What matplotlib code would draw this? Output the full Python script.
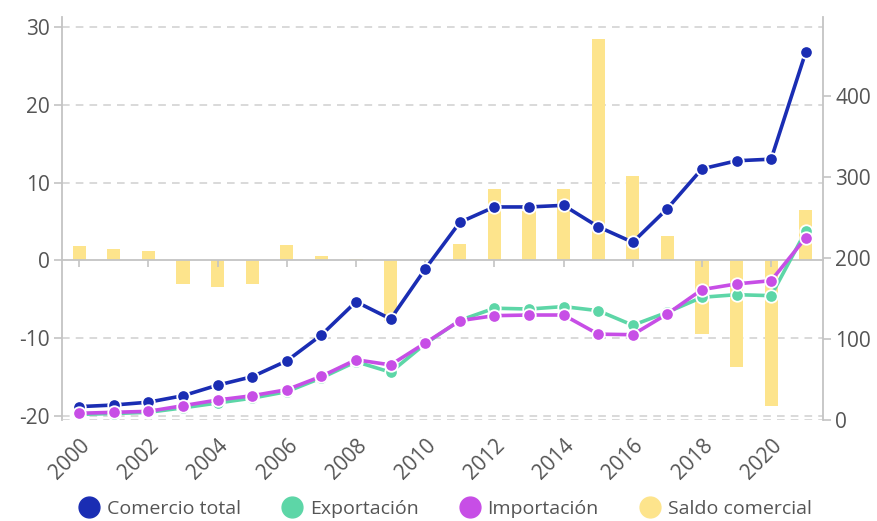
import matplotlib
matplotlib.use("Agg")
import matplotlib.pyplot as plt
from matplotlib.lines import Line2D

plt.rcParams['font.family'] = ['Open Sans', 'DejaVu Sans']

years = list(range(2000, 2022))
saldo = [1.8, 1.5, 1.2, -3.0, -3.4, -3.0, 1.9, 0.5, 0.1, -7.8, 0.0,
         2.1, 9.2, 6.3, 9.2, 28.4, 10.9, 3.1, -9.5, -13.7, -18.7, 6.4]
comercio_total = [16.5, 18.5, 22, 30, 43, 53.5, 73, 105, 146, 124.7, 186.4,
                  244, 263, 263, 265, 238.6, 219.4, 261, 310, 320, 322, 454]
exportacion = [7, 8, 9.5, 15, 21, 27, 35, 52, 72, 59, 94,
               123, 138, 137, 140, 135, 117, 133, 151.5, 154.7, 153.5, 233]
importacion = [8.3, 9.5, 10.7, 17.7, 24.7, 30, 37.4, 54, 74.4, 68, 95,
               122.6, 128.8, 129.6, 129.6, 106, 105.3, 131, 161, 168, 172, 225]

xticks = list(range(2000, 2021, 2))
left_ticks = [-20, -10, 0, 10, 20, 30]
right_ticks = [0, 100, 200, 300, 400]

c_total = '#1a2db3'
c_exp = '#5dd6a7'
c_imp = '#c74ee6'
c_bar = '#fde48c'
grid_c = '#cfcfcf'
spine_c = '#c4c4c4'
text_c = '#555555'

fig = plt.figure(figsize=(8.77, 5.21), dpi=100)
ax = fig.add_axes([62/877, 1-420/521, (823-62)/877, (420-17)/521])
ax2 = ax.twinx()

ax.set_xlim(1999.5, 2021.5)
ax.set_ylim(-20.55, 31.29)
ax2.set_ylim(0, 497.5)

for v in [-20, -10, 10, 20, 30]:
    ax.axhline(v, color=grid_c, lw=1.1, ls=(0, (5, 4)), zorder=0)
ax2.axhline(0, color=grid_c, lw=1.1, ls=(0, (5, 4)), zorder=0)

ax.bar(years, saldo, width=0.38, color=c_bar, zorder=1)

ax.set_zorder(1)
ax2.set_zorder(2)
ax2.patch.set_visible(False)

lw = 2.6
ms = 9
ax2.plot(years, comercio_total, color=c_total, lw=lw, marker='o', ms=ms,
         mfc=c_total, mec='white', mew=1.3, zorder=3)
ax2.plot(years, exportacion, color=c_exp, lw=lw, marker='o', ms=ms,
         mfc=c_exp, mec='white', mew=1.3, zorder=4)
ax2.plot(years, importacion, color=c_imp, lw=lw, marker='o', ms=ms,
         mfc=c_imp, mec='white', mew=1.3, zorder=5)

for a in (ax, ax2):
    a.spines['top'].set_visible(False)
ax.spines['right'].set_visible(False)
ax2.spines['left'].set_visible(False)
ax2.spines['bottom'].set_visible(False)
ax.spines['left'].set_color(spine_c)
ax.spines['left'].set_linewidth(1.3)
ax2.spines['right'].set_color(spine_c)
ax2.spines['right'].set_linewidth(1.3)

ax.spines['bottom'].set_position(('data', 0))
ax.spines['bottom'].set_color(spine_c)
ax.spines['bottom'].set_linewidth(1.3)
ax.set_xticks(xticks)
ax.tick_params(axis='x', direction='out', length=5, width=1.2,
               color=spine_c, labelbottom=False)

sec = ax.secondary_xaxis(0.0)
sec.set_xticks(xticks)
sec.set_xticklabels([str(y) for y in xticks], rotation=45, ha='right',
                    rotation_mode='anchor', fontsize=15, color=text_c)
sec.tick_params(axis='x', length=0, pad=11)
sec.spines['bottom'].set_visible(False)

ax.set_yticks(left_ticks)
ax.set_yticklabels([str(v) for v in left_ticks])
ax.tick_params(axis='y', direction='out', length=6, width=1.2,
               color=spine_c, labelsize=15, labelcolor=text_c, pad=3)
ax2.set_yticks(right_ticks)
ax2.set_yticklabels([str(v) for v in right_ticks])
ax2.tick_params(axis='y', direction='out', length=6, width=1.2,
                color=spine_c, labelsize=15, labelcolor=text_c, pad=3)

handles = [
    Line2D([], [], ls='none', marker='o', ms=15, mfc=c_total, mec=c_total),
    Line2D([], [], ls='none', marker='o', ms=15, mfc=c_exp, mec=c_exp),
    Line2D([], [], ls='none', marker='o', ms=15, mfc=c_imp, mec=c_imp),
    Line2D([], [], ls='none', marker='o', ms=15, mfc=c_bar, mec=c_bar),
]
labels = ['Comercio total', 'Exportación', 'Importación', 'Saldo comercial']
leg = fig.legend(handles, labels, loc='lower center', ncol=4,
                 bbox_to_anchor=(0.507, -0.028), frameon=False,
                 fontsize=14, handletextpad=0.3, columnspacing=2.05,
                 handlelength=1.2)
for t in leg.get_texts():
    t.set_color(text_c)

fig.savefig('out.png', dpi=100)
